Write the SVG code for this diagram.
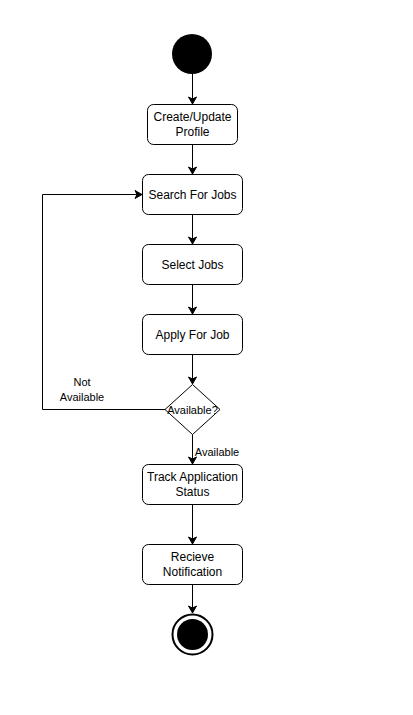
<svg xmlns="http://www.w3.org/2000/svg" width="413" height="715" viewBox="0 0 413 715">
<defs>
<marker id="arr" markerWidth="10" markerHeight="10" refX="8" refY="5" orient="auto" markerUnits="userSpaceOnUse">
<path d="M1,1 L8,5 L1,9 L3,5 Z" fill="#000" stroke="#000" stroke-width="1"/>
</marker>
</defs>
<style>
.box{fill:#fff;stroke:#000;stroke-width:1}
.t{font-family:"Liberation Sans",Arial,sans-serif;font-size:12px;fill:#000;text-anchor:middle}
.e{fill:none;stroke:#000;stroke-width:1}
</style>
<rect width="413" height="715" fill="#fff"/>
<g id="start"><circle cx="192" cy="54" r="20" fill="#000"/></g>
<g id="profile"><rect class="box" x="147.5" y="104.5" width="90" height="40" rx="6"/><text class="t" x="192.5" y="121">Create/Update</text><text class="t" x="192.5" y="136">Profile</text></g>
<g id="search"><rect class="box" x="142.5" y="174.5" width="100" height="40" rx="6"/><text class="t" x="192.5" y="198.5">Search For Jobs</text></g>
<g id="select"><rect class="box" x="142.5" y="244.5" width="100" height="40" rx="6"/><text class="t" x="192.5" y="268.5">Select Jobs</text></g>
<g id="apply"><rect class="box" x="142.5" y="314.5" width="100" height="40" rx="6"/><text class="t" x="192.5" y="338.5">Apply For Job</text></g>
<g id="decision"><path class="box" d="M192.5,384.5 L220,409.5 L192.5,434.5 L165,409.5 Z"/><text class="t" x="192.5" y="413.5" style="font-size:11px">Available?</text></g>
<g id="track"><rect class="box" x="142.5" y="464.5" width="100" height="40" rx="6"/><text class="t" x="192.5" y="481">Track Application</text><text class="t" x="192.5" y="496">Status</text></g>
<g id="notify"><rect class="box" x="142.5" y="544.5" width="100" height="40" rx="6"/><text class="t" x="192.5" y="561">Recieve</text><text class="t" x="192.5" y="576">Notification</text></g>
<g id="end"><circle cx="192.5" cy="634.5" r="20" fill="#fff" stroke="#000" stroke-width="2"/><circle cx="192.5" cy="634.5" r="15.5" fill="#000"/></g>
<g id="connectors">
<path class="e" d="M192.5,74 L192.5,104" marker-end="url(#arr)"/>
<path class="e" d="M192.5,144.5 L192.5,174" marker-end="url(#arr)"/>
<path class="e" d="M192.5,214.5 L192.5,244" marker-end="url(#arr)"/>
<path class="e" d="M192.5,284.5 L192.5,314" marker-end="url(#arr)"/>
<path class="e" d="M192.5,354.5 L192.5,384" marker-end="url(#arr)"/>
<path class="e" d="M192.5,434.5 L192.5,464" marker-end="url(#arr)"/>
<path class="e" d="M192.5,504.5 L192.5,544" marker-end="url(#arr)"/>
<path class="e" d="M192.5,584.5 L192.5,613" marker-end="url(#arr)"/>
<path class="e" d="M165,409.5 L42.5,409.5 L42.5,194.5 L142,194.5" marker-end="url(#arr)"/>
<text class="t" x="82" y="386" style="font-size:11px">Not</text>
<text class="t" x="82" y="401" style="font-size:11px">Available</text>
<text class="t" x="217" y="456" style="font-size:11px">Available</text>
</g>
</svg>
